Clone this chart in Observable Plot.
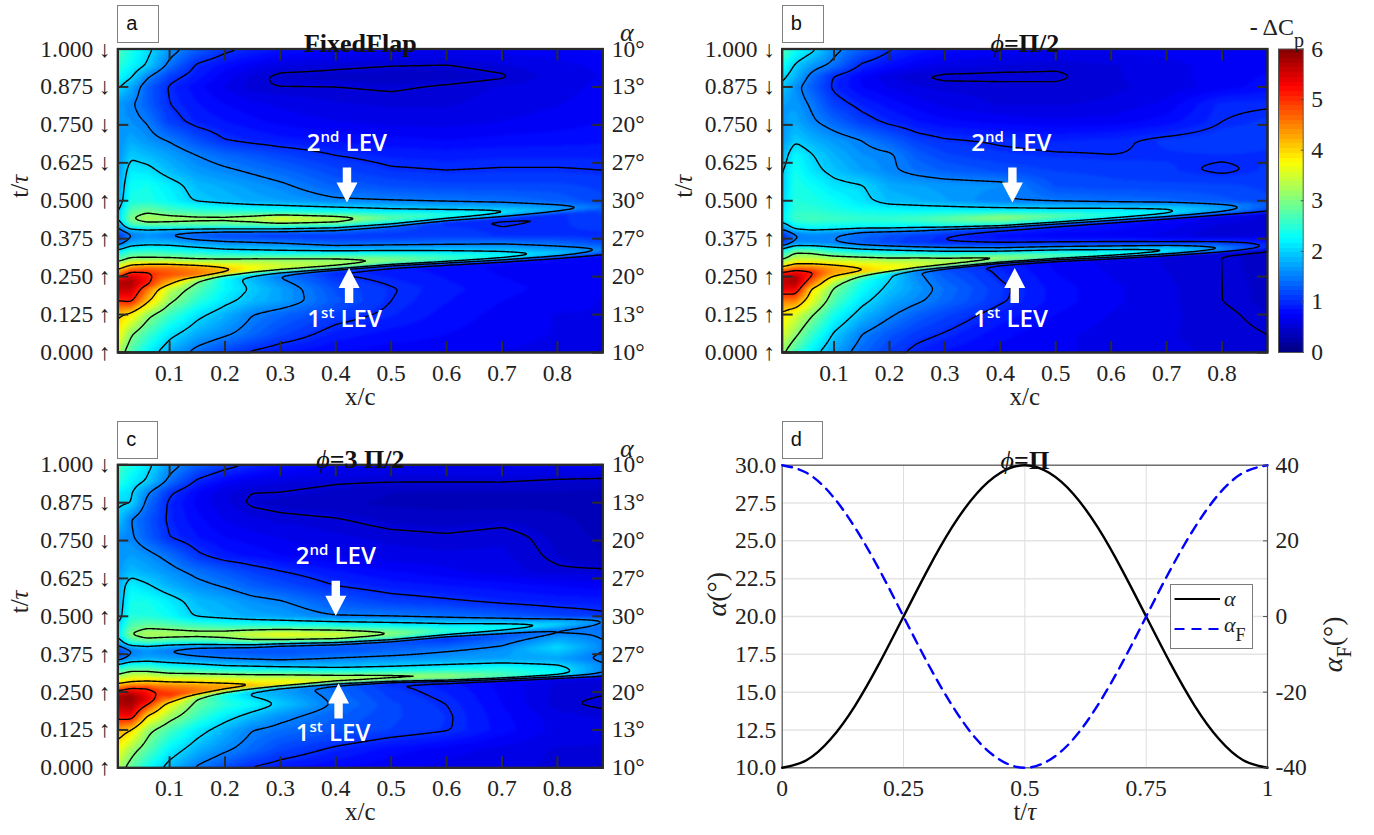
<!DOCTYPE html>
<html>
<head>
<meta charset="utf-8">
<script src="https://cdn.jsdelivr.net/npm/d3@7"></script>
<script src="https://cdn.jsdelivr.net/npm/@observablehq/plot@0.6"></script>
<style>
html,body{margin:0;padding:0;background:#fff}
#page{position:relative;width:1374px;height:835px;overflow:hidden;background:#fff}
#page svg{position:absolute;overflow:visible}
.tag{position:absolute;box-sizing:border-box;border:1.5px solid #808080;background:#fff;font:20px "Liberation Sans";color:#111;padding:6px 0 0 8px;height:38px}
</style>
</head>
<body>
<div id="page"></div>
<script>
// sampled columns (x/c)
const xCols = [.0065,.03,.06,.1,.15,.2,.25,.3,.4,.5,.6,.7,.8,.882];
// rows shared by all panels
const tLow = [0,.06,.125,.17,.21];
const tHigh = [.5,.55,.6,.65,.7,.76,.82,.875,.91,.945,1];

// Panel a: feature-following rows
const tMidA = [
[.235,.235,.225,.22,.235,.245,.25,.255,.262,.27,.28,.285,.295,.305],
[.25,.25,.25,.235,.245,.254,.26,.265,.274,.286,.294,.302,.312,.322],
[.265,.265,.265,.255,.255,.262,.268,.272,.28,.292,.299,.307,.317,.327],
[.28,.28,.28,.28,.28,.28,.282,.286,.292,.3,.306,.314,.323,.333],
[.305,.305,.305,.305,.303,.303,.305,.307,.31,.313,.317,.322,.329,.338],
[.335,.335,.335,.335,.335,.335,.335,.335,.335,.335,.335,.335,.338,.345],
[.36,.36,.36,.36,.36,.36,.36,.36,.36,.36,.36,.36,.36,.36],
[.385,.385,.385,.385,.385,.385,.385,.385,.385,.385,.385,.385,.385,.385],
[.4,.4,.4,.4,.4,.4,.4,.4,.405,.415,.43,.442,.455,.465],
[.42,.42,.42,.415,.415,.415,.415,.415,.418,.428,.441,.452,.465,.475],
[.44,.44,.44,.44,.44,.44,.44,.44,.44,.445,.453,.462,.472,.482],
[.47,.47,.47,.465,.465,.465,.465,.465,.465,.468,.47,.475,.483,.49]];
const cpA = [
[3.3,2.7,2.2,1.75,1.37,1.12,.95,.85,.75,.7,.7,.65,.62,.65],
[3.8,3.05,2.6,2.1,1.75,1.55,1.35,1.15,.9,.8,.75,.7,.65,.65],
[4.1,3.85,3.15,2.6,2.1,1.8,1.5,1.35,1.1,.95,.8,.72,.65,.65],
[5,5.1,4.1,3.1,2.5,2.1,1.85,1.7,1.25,1,.85,.75,.7,.65],
[5.6,5.6,4.6,3.4,2.75,2.25,1.95,1.7,1.2,1.02,.88,.78,.72,.66],
[5.7,5.8,5.1,3.9,3,2.25,1.8,1.45,.98,.88,.8,.72,.7,.68],
[4.9,5.5,5.2,4.3,3.6,2.9,2.4,1.9,1.2,1,.9,.85,.8,.8],
[4.4,5,5,4.8,4.6,4.2,3.6,3.3,3,2.6,2.3,1.9,1.6,1.4],
[3.7,4.4,4.6,4.6,4.4,4.05,3.75,3.5,3.25,3,2.6,2.3,1.9,1.35],
[2.8,3.2,3.2,3.2,3.15,3.15,3.15,3.1,3.05,2.85,2.55,2.25,1.9,1.5],
[2.1,2.45,2.5,2.4,2.25,2.1,2.05,2,1.95,2,2,1.95,1.7,1.45],
[1.3,1.75,1.85,1.85,1.7,1.6,1.55,1.5,1.3,1.35,1.4,1.45,1.35,1.2],
[1,1.45,1.6,1.45,1.25,1.15,1.1,1.05,1.05,1.05,1.1,1.02,1.03,1],
[1.3,1.7,1.8,1.65,1.55,1.5,1.5,1.5,1.5,1.3,1,.98,1,1.15],
[1.6,2.6,2.75,2.6,2.55,2.5,2.5,2.5,2.55,2.4,2.1,1.85,1.55,1.3],
[1.95,3,3.3,3.25,3.2,3.2,3.35,3.7,3.4,2.8,2.5,2.15,1.75,1.4],
[1.9,2.7,2.85,2.7,2.55,2.5,2.45,2.4,2.3,2.1,2,1.85,1.55,1.25],
[1.75,2.4,2.4,2.25,1.95,1.85,1.75,1.7,1.55,1.5,1.45,1.4,1.3,1.15],
[1.7,2.3,2.35,2.15,1.85,1.75,1.65,1.55,1.3,1.2,1.15,1.15,1.15,1.1],
[1.65,2.15,2.1,1.85,1.65,1.55,1.45,1.35,1.15,1.03,1,1.02,1.02,1],
[1.6,1.95,1.85,1.7,1.5,1.35,1.25,1.15,1,.92,.9,.92,.92,.92],
[1.6,1.75,1.62,1.47,1.2,1,.93,.88,.82,.78,.75,.78,.8,.82],
[1.6,1.6,1.48,1.1,.92,.85,.78,.72,.66,.62,.62,.66,.7,.75],
[1.65,1.55,1.3,1,.85,.75,.68,.63,.57,.55,.55,.6,.65,.7],
[2.05,1.75,1.3,.97,.78,.65,.52,.5,.5,.48,.52,.57,.62,.68],
[2.3,2.05,1.55,1.1,.88,.7,.55,.46,.45,.43,.43,.48,.6,.66],
[2.5,2.25,1.95,1.4,.95,.8,.68,.58,.53,.5,.49,.55,.62,.68],
[2.7,2.4,2.1,1.65,1.3,1.07,.95,.85,.75,.7,.68,.7,.72,.78]];

// Panel b
const tMidB = [
[.235,.235,.225,.22,.235,.25,.26,.265,.28,.295,.305,.315,.325,.333],
[.25,.25,.25,.24,.255,.263,.272,.279,.295,.304,.311,.32,.329,.337],
[.265,.265,.265,.26,.263,.27,.278,.285,.3,.31,.317,.326,.335,.343],
[.28,.28,.28,.28,.28,.285,.29,.295,.308,.316,.322,.331,.34,.348],
[.305,.305,.305,.305,.305,.305,.308,.31,.318,.325,.33,.337,.345,.353],
[.335,.335,.335,.335,.335,.335,.335,.335,.335,.34,.342,.347,.352,.358],
[.36,.36,.36,.36,.36,.36,.36,.36,.36,.36,.36,.36,.365,.37],
[.385,.385,.385,.385,.385,.385,.385,.385,.385,.385,.385,.385,.385,.385],
[.395,.395,.395,.395,.4,.4,.4,.405,.41,.42,.43,.44,.45,.455],
[.41,.41,.41,.41,.412,.412,.415,.415,.42,.43,.44,.45,.46,.465],
[.44,.44,.44,.44,.44,.44,.44,.44,.444,.45,.455,.46,.47,.475],
[.47,.47,.47,.47,.47,.47,.47,.47,.47,.47,.473,.478,.484,.49]];
const cpB = [
[3.1,2.6,2.15,1.7,1.35,1.1,.92,.82,.72,.68,.62,.58,.55,.5],
[3.55,3.1,2.55,1.95,1.5,1.25,1.08,.98,.78,.68,.62,.57,.53,.5],
[3.9,3.55,3.05,2.35,1.85,1.55,1.3,1.15,.9,.75,.65,.58,.52,.47],
[4.5,4.5,3.6,2.7,2.1,1.75,1.55,1.35,1.03,.8,.68,.58,.5,.45],
[5.4,5.4,3.95,2.95,2.3,1.9,1.65,1.4,1.05,.8,.68,.58,.5,.45],
[5.6,5.8,4.5,3.1,2.4,2.05,1.55,1.25,.93,.72,.62,.55,.5,.42],
[5.5,5.7,5,3.6,3,2.1,1.45,1.1,.8,.7,.62,.55,.5,.48],
[5,5.3,5.1,4.3,4.1,3.75,3.4,3.2,3,2.6,2.3,2.1,1.5,.9],
[4.1,4.5,4.5,4.3,4,3.75,3.55,3.35,3.1,2.75,2.4,2.1,1.6,1],
[3,3.5,3.5,3.4,3.35,3.25,3.2,3.1,3,2.6,2.3,2.05,1.55,.95],
[2.3,2.85,2.8,2.45,2.2,2.1,2,1.9,1.85,1.9,1.95,1.9,1.35,.9],
[1.1,1.6,1.6,1.5,1.3,1.15,1.05,1,.98,1.02,1.05,1.05,1,.8],
[.9,1.45,1.55,1.52,1.35,1.2,1.1,1,.8,.72,.7,.62,.47,.55],
[1.2,1.6,1.7,1.6,1.5,1.45,1.4,1.3,1.1,.95,.85,.75,.62,.55],
[1.6,2.1,2.25,2.2,2.2,2.2,2.2,2.3,2.4,2.3,2.05,1.8,1.45,1],
[2.2,2.6,2.65,2.6,2.55,2.55,2.65,2.8,3.15,2.8,2.45,2.15,1.7,1.25],
[2.1,2.5,2.5,2.4,2.3,2.25,2.2,2.2,2.15,2.1,2.05,1.95,1.6,1.3],
[2,2.45,2.4,2.3,2.1,1.85,1.8,1.7,1.5,1.45,1.4,1.35,1.25,1.15],
[1.95,2.4,2.3,2.1,2.02,1.75,1.7,1.65,1.6,1.2,1.15,1.15,1.15,1.1],
[1.95,2.35,2.1,1.9,1.7,1.55,1.4,1.3,1.2,1.12,1.1,1.05,.96,1.05],
[1.8,2.25,2.02,1.8,1.6,1.55,1.28,1.15,1.05,1.02,1,1.02,1.03,1.02],
[1.65,1.95,1.8,1.65,1.5,1.3,1.1,1.02,.97,.93,.96,1.05,1.1,1.05],
[1.65,1.75,1.55,1.35,1.1,.95,.85,.78,.72,.68,.7,.8,1,1.05],
[1.7,1.65,1.45,1.1,.92,.8,.7,.62,.55,.55,.58,.68,.97,.98],
[1.95,1.6,1.3,.95,.75,.65,.57,.54,.53,.52,.54,.6,.7,.8],
[2.1,1.8,1.4,.98,.75,.58,.5,.47,.47,.48,.55,.62,.7,.76],
[2.35,1.95,1.65,1.4,.95,.8,.68,.6,.55,.52,.55,.62,.7,.72],
[2.75,2.35,2.1,1.6,1.3,1.03,.9,.8,.72,.68,.68,.7,.72,.75]];

// Panel c
const tMidC = [
[.235,.235,.225,.22,.23,.24,.245,.25,.26,.265,.27,.275,.28,.285],
[.25,.25,.25,.23,.24,.25,.258,.266,.277,.283,.286,.291,.297,.3],
[.265,.265,.265,.24,.248,.258,.265,.272,.283,.289,.292,.297,.303,.306],
[.28,.28,.28,.27,.27,.27,.272,.28,.29,.295,.298,.303,.309,.313],
[.305,.305,.305,.3,.3,.3,.3,.3,.3,.303,.306,.311,.317,.322],
[.335,.335,.335,.33,.33,.33,.33,.33,.33,.33,.33,.33,.333,.34],
[.36,.36,.36,.36,.36,.36,.36,.36,.36,.36,.36,.36,.36,.36],
[.385,.385,.385,.385,.385,.385,.385,.385,.385,.385,.385,.39,.398,.4],
[.4,.4,.4,.4,.4,.4,.4,.405,.41,.418,.43,.44,.452,.462],
[.415,.415,.415,.415,.415,.415,.415,.417,.42,.428,.44,.45,.462,.472],
[.44,.44,.44,.44,.44,.44,.44,.44,.44,.445,.452,.46,.47,.48],
[.47,.47,.47,.47,.47,.47,.47,.47,.47,.47,.47,.473,.482,.492]];
const cpC = [
[3.25,2.8,2.3,1.85,1.45,1.2,.97,.88,.75,.68,.62,.58,.55,.55],
[3.75,3.2,2.75,2.2,1.8,1.55,1.35,1.15,.95,.8,.7,.62,.55,.55],
[4.3,4,3.15,2.65,2.15,1.8,1.5,1.4,1.25,1.12,1.02,.8,.62,.6],
[5.2,5.3,3.95,3.2,2.6,2.15,1.85,1.6,1.3,1.15,1.03,.78,.6,.55],
[5.7,5.8,5.05,3.7,2.85,2.5,2.25,1.95,1.45,1.15,1,.75,.52,.47],
[5.8,5.9,5.4,4.2,3,2.3,1.9,1.7,1.35,1.05,.9,.72,.55,.55],
[5.2,5.5,5.2,4.7,3.7,2.9,2.1,1.75,1.4,.95,.85,.75,.62,.6],
[4.5,4.9,4.95,5.05,4.6,4.25,4.1,3.9,3.3,3.1,3.05,2.7,2.2,1.4],
[3.9,4.1,4.2,4.5,4.4,4.3,4.15,3.85,3.4,3.2,3.05,2.7,2.2,1.5],
[3.1,3.4,3.4,3.4,3.4,3.35,3.3,3.3,3.25,3.15,3.05,2.65,2.2,1.55],
[2.2,2.5,2.5,2.4,2.3,2.15,2.1,2.05,1.95,2.05,2.2,2.35,2.1,1.55],
[1.3,1.65,1.75,1.7,1.6,1.5,1.45,1.4,1.52,1.6,1.65,1.7,1.7,1.4],
[1.05,1.45,1.6,1.45,1.3,1.25,1.2,1.2,1.25,1.35,1.5,1.6,2.05,1.55],
[1.4,1.8,1.9,1.7,1.55,1.5,1.45,1.4,1.35,1.2,.98,1.2,1.4,1.4],
[1.7,2.5,2.7,2.5,2.45,2.6,2.75,2.8,2.85,2.75,2.3,1.9,1.7,1.4],
[2.1,3.05,3.3,3.3,3.25,3.3,3.55,3.75,3.6,3.1,2.55,2.3,2,1.55],
[2,2.7,2.85,2.75,2.6,2.5,2.45,2.4,2.35,2.25,2.15,2.1,1.85,1.45],
[1.8,2.45,2.45,2.3,1.95,1.85,1.75,1.7,1.5,1.47,1.4,1.3,1.15,1.05],
[1.75,2.35,2.35,2.15,1.85,1.75,1.6,1.52,1.25,1.1,1.03,.95,.9,.9],
[1.75,2.2,2.05,1.8,1.6,1.47,1.3,1.2,1,.9,.85,.8,.75,.7],
[1.65,1.85,1.75,1.6,1.4,1.25,1.1,1,.85,.75,.68,.6,.52,.52],
[1.6,1.7,1.6,1.4,1.05,.88,.82,.75,.65,.6,.58,.58,.47,.38],
[1.6,1.55,1.3,1,.85,.75,.7,.65,.58,.54,.52,.55,.45,.35],
[1.95,1.5,1.25,.95,.78,.65,.58,.54,.51,.45,.43,.46,.42,.3],
[2.05,2.02,1.4,.95,.72,.58,.47,.44,.4,.35,.33,.33,.32,.3],
[2.2,2.05,1.55,1.05,.75,.58,.5,.5,.45,.38,.37,.37,.37,.36],
[2.5,2.2,1.95,1.4,.95,.75,.62,.57,.52,.51,.51,.51,.47,.45],
[2.65,2.4,2.1,1.65,1.3,1.1,.97,.85,.72,.65,.65,.68,.7,.72]];

// axis labels
const tickT = [0,.125,.25,.375,.5,.625,.75,.875,1];
const tickDir = ["↑","↑","↑","↑","↑","↓","↓","↓","↓"];
const alphaLabels = ["10°","13°","20°","27°","30°","27°","20°","13°","10°"];
const xTicks = [.1,.2,.3,.4,.5,.6,.7,.8];
const levels = [.5,1,1.5,2,3,4,5];
const jetStops = [[0,"#000080"],[.75,"#0000ff"],[2.25,"#00ffff"],[3.75,"#ffff00"],[5.25,"#ff0000"],[6,"#800000"]];

// panel d
const phaseT = [0,.05,.1,.15,.2,.25,.3,.35,.4,.45,.5,.55,.6,.65,.7,.75,.8,.85,.9,.95,1];
const alphaDeg = [10,10.5,11.9,14.1,16.9,20,23.1,25.9,28.1,29.5,30,29.5,28.1,25.9,23.1,20,16.9,14.1,11.9,10.5,10];
const flapDeg = [40,38,32.4,23.5,12.4,0,-12.4,-23.5,-32.4,-38,-40,-38,-32.4,-23.5,-12.4,0,12.4,23.5,32.4,38,40];
const yTicksD = [10,12.5,15,17.5,20,22.5,25,27.5,30];
const xTicksD = [0,.25,.5,.75,1];
const xTickNamesD = ["0","0.25","0.5","0.75","1"];
const flapTicks = [-40,-20,0,20,40];

// arrows and labels [xTip, tTip] / [x, t]
const notes = {
  a:{down:[.4202,.494],up:[.424,.2786],lev2:[.42,.69],lev1:[.416,.109]},
  b:{down:[.4218,.494],up:[.426,.2786],lev2:[.42,.69],lev1:[.4185,.109]},
  c:{down:[.4,.5016],up:[.405,.278],lev2:[.4,.697],lev1:[.395,.113]}
};

// jet colormap quantised in 64 steps, as MATLAB draws it
const jetI = d3.scaleLinear().domain(jetStops.map(d=>d[0])).range(jetStops.map(d=>d[1])).interpolate(d3.interpolateRgb);
const bandEdges = d3.range(1,64).map(i=>i*6/64);
const bandColors = d3.range(64).map(i=>jetI((i+.5)*6/64));
const colorOpts = {type:"threshold",domain:bandEdges,range:bandColors};

const SERIF = "Liberation Serif";
const FS = 23.5;
const INK = "#2b2b2b";

// Plot interpolate hook: blends along the rows and columns of the reading mesh
function meshInterpolate(index,w,h,X,Y,V){
  const nc = xCols.length, nr = index.length/nc;
  const W = new Float64Array(w*h);
  const ry = new Float64Array(nr), rv = new Float64Array(nr);
  for(let px=0;px<w;px++){
    const xp = px+.5;
    let c = 0;
    while(c<nc-2 && X[index[c+1]]<xp) c++;
    const x0 = X[index[c]], x1 = X[index[c+1]];
    const u = Math.max(0,Math.min(1,(xp-x0)/(x1-x0)));
    for(let r=0;r<nr;r++){
      const a = index[r*nc+c], b = index[r*nc+c+1];
      ry[r] = Y[a]*(1-u)+Y[b]*u;
      rv[r] = V[a]*(1-u)+V[b]*u;
    }
    let r = 0;
    for(let py=h-1;py>=0;py--){
      const yp = py+.5;
      while(r<nr-2 && ry[r+1]>yp) r++;
      const s = Math.max(0,Math.min(1,(ry[r]-yp)/(ry[r]-ry[r+1])));
      W[py*w+px] = rv[r]*(1-s)+rv[r+1]*s;
    }
  }
  return W;
}

function meshTable(tMid,cp){
  const rowsT = [...tLow.map(t=>xCols.map(()=>t)),...tMid,...tHigh.map(t=>xCols.map(()=>t))];
  const out = [];
  rowsT.forEach((row,r)=>row.forEach((t,c)=>out.push({x:xCols[c],t,v:cp[r][c]})));
  return out;
}

const arrowDown = {draw(ctx,l){ // tip at the anchored end, drawn pointing up then rotated
  const hw=10.5,sw=4.2,hh=20;
  ctx.moveTo(0,-l);ctx.lineTo(hw,-l+hh);ctx.lineTo(sw,-l+hh);ctx.lineTo(sw,0);ctx.lineTo(-sw,0);ctx.lineTo(-sw,-l+hh);ctx.lineTo(-hw,-l+hh);ctx.closePath();
}};

const richMap = {
  "2nd LEV":'2<tspan dy="-9" font-size="15">nd</tspan><tspan dy="9"> LEV</tspan>',
  "1st LEV":'1<tspan dy="-9" font-size="15">st</tspan><tspan dy="9"> LEV</tspan>',
  "ϕ=Π/2":'<tspan font-style="italic" font-weight="normal">ϕ</tspan>=Π/2',
  "ϕ=3 Π/2":'<tspan font-style="italic" font-weight="normal">ϕ</tspan>=3 Π/2',
  "ϕ=Π":'<tspan font-style="italic" font-weight="normal">ϕ</tspan>=Π',
  "t/τ":'t/<tspan font-style="italic">τ</tspan>',
  "α":'<tspan font-style="italic">α</tspan>',
  "α(°)":'<tspan font-style="italic">α</tspan>(°)',
  "αF(°)":'<tspan font-style="italic">α</tspan><tspan dy="9" font-size="20">F</tspan><tspan dy="-9">(°)</tspan>',
  "-ΔCp":'<tspan font-weight="bold">-</tspan> ΔC<tspan dy="12" font-size="20">p</tspan>'
};
function finish(svg,left,top){
  d3.select(svg).selectAll("text").each(function(){const h=richMap[this.textContent]; if(h) this.innerHTML=h;});
  svg.style.left=left+"px"; svg.style.top=top+"px";
  document.getElementById("page").appendChild(svg);
}
const T = {fontFamily:SERIF,fontSize:FS,fill:"#222"};

function heat(o){
  const data = meshTable(o.tMid,o.cp);
  const n = notes[o.key];
  const marks = [
    Plot.raster(data,{x:"x",y:"t",fill:"v",interpolate:meshInterpolate,pixelSize:1,blur:1}),
    Plot.contour(data,{x:"x",y:"t",value:"v",interpolate:meshInterpolate,pixelSize:1,blur:1.5,thresholds:levels,stroke:"#000",strokeWidth:1.4,fill:"none"}),
    Plot.frame({stroke:INK,strokeWidth:2.3}),
    Plot.axisX(xTicks,{anchor:"bottom",tickSize:-11,stroke:INK,strokeWidth:2,fill:"none",label:null}),
    Plot.axisX(xTicks,{anchor:"top",tickSize:-11,stroke:INK,strokeWidth:2,fill:"none",label:null}),
    Plot.axisY(tickT,{anchor:"left",tickSize:-11,stroke:INK,strokeWidth:2,fill:"none",label:null}),
    Plot.axisY(tickT,{anchor:"right",tickSize:-11,stroke:INK,strokeWidth:2,fill:"none",label:null}),
    Plot.axisX(xTicks,{anchor:"bottom",tickSize:0,tickPadding:12,tickFormat:d=>d.toFixed(1),label:null,...T}),
    Plot.axisY(tickT,{anchor:"left",tickSize:0,tickPadding:7,tickFormat:(d,i)=>d.toFixed(3)+" "+tickDir[tickT.indexOf(d)],label:null,...T}),
    Plot.vector([n.down],{x:d=>d[0],y:d=>d[1],rotate:180,length:35,anchor:"end",shape:arrowDown,fill:"#fff",stroke:"none"}),
    Plot.vector([n.up],{x:d=>d[0],y:d=>d[1],rotate:0,length:35,anchor:"end",shape:arrowDown,fill:"#fff",stroke:"none"}),
    Plot.text(["2nd LEV"],{x:()=>n.lev2[0],y:()=>n.lev2[1],text:d=>d,fontFamily:"Open Sans",fontWeight:600,fontSize:24,fill:"#fff"}),
    Plot.text(["1st LEV"],{x:()=>n.lev1[0],y:()=>n.lev1[1],text:d=>d,fontFamily:"Open Sans",fontWeight:600,fontSize:24,fill:"#fff"}),
    Plot.text([o.title],{frameAnchor:"top",dy:-15,fontFamily:SERIF,fontWeight:"bold",fontSize:26,fill:"#111"}),
    Plot.text(["x/c"],{frameAnchor:"bottom",dy:52,...T,fontSize:25}),
    Plot.text(["t/τ"],{frameAnchor:"left",dx:-98,dy:-3,rotate:-90,...T,fontSize:25})
  ];
  if(o.rightLabels){
    marks.push(
      Plot.axisY(tickT,{anchor:"right",tickSize:0,tickPadding:9,tickFormat:d=>alphaLabels[tickT.indexOf(d)],label:null,...T}),
      Plot.text(["α"],{frameAnchor:"top-right",dx:24,dy:-26,...T,fontSize:26,textAnchor:"middle"})
    );
  }
  return Plot.plot({
    width:o.w,height:o.h,marginLeft:o.ml,marginRight:o.mr,marginTop:o.mt,marginBottom:o.mb,
    style:{background:"transparent",fontFamily:SERIF},
    x:{domain:[.0065,.882]},
    y:{domain:[0,1]},
    color:colorOpts,
    marks
  });
}

finish(heat({key:"a",tMid:tMidA,cp:cpA,title:"FixedFlap",rightLabels:true,w:660,h:415,ml:117.3,mr:57.7,mt:48.5,mb:63}),0,0);
finish(heat({key:"b",tMid:tMidB,cp:cpB,title:"ϕ=Π/2",rightLabels:false,w:620,h:415,ml:121.7,mr:13,mt:48.5,mb:63}),660,0);
finish(heat({key:"c",tMid:tMidC,cp:cpC,title:"ϕ=3 Π/2",rightLabels:true,w:660,h:420,ml:117.3,mr:57.7,mt:49.3,mb:67.7}),0,415);

// colour bar
const bands = d3.range(64).map(i=>({y1:i*6/64,y2:(i+1)*6/64,v:(i+.5)*6/64}));
finish(Plot.plot({
  width:134,height:415,marginLeft:38,marginRight:71.3,marginTop:48.5,marginBottom:63,
  style:{background:"transparent",fontFamily:SERIF},
  x:{domain:[0,1],axis:null},y:{domain:[0,6]},color:colorOpts,
  marks:[
    Plot.rect(bands,{x1:()=>0,x2:()=>1,y1:"y1",y2:"y2",fill:"v",shapeRendering:"crispEdges"}),
    Plot.frame({stroke:"#555",strokeWidth:1}),
    Plot.axisY([0,1,2,3,4,5,6],{anchor:"right",tickSize:-3,stroke:"#555",fill:"none",label:null}),
    Plot.axisY([0,1,2,3,4,5,6],{anchor:"right",tickSize:0,tickPadding:8,label:null,tickFormat:d=>String(d),...T}),
    Plot.text(["-ΔCp"],{frameAnchor:"top",dx:-14,dy:-31,...T,fontSize:24})
  ]
}),1240,0);

// panel d
const toLeft = v=>20+v/4;
finish(Plot.plot({
  width:714,height:420,marginLeft:121.7,marginRight:107,marginTop:49.7,marginBottom:67.7,
  style:{background:"transparent",fontFamily:SERIF},
  x:{domain:[0,1]},y:{domain:[10,30]},
  marks:[
    Plot.ruleY(yTicksD,{stroke:"#e4e4e4",strokeWidth:1.5}),
    Plot.ruleX(xTicksD,{stroke:"#dedede",strokeWidth:1}),
    Plot.frame({stroke:"#555",strokeWidth:1.2}),
    Plot.line(phaseT.map((t,i)=>({t,v:alphaDeg[i]})),{x:"t",y:"v",stroke:"#000",strokeWidth:2.4,curve:"natural"}),
    Plot.line(phaseT.map((t,i)=>({t,v:toLeft(flapDeg[i])})),{x:"t",y:"v",stroke:"#0000ff",strokeWidth:2.4,strokeDasharray:"10 7",curve:"natural"}),
    Plot.axisX(xTicksD,{anchor:"bottom",tickSize:0,tickPadding:12,tickFormat:d=>xTickNamesD[xTicksD.indexOf(d)],label:null,...T}),
    Plot.axisY(yTicksD,{anchor:"left",tickSize:0,tickPadding:6,tickFormat:d=>d.toFixed(1),label:null,...T}),
    Plot.axisY(flapTicks.map(toLeft),{anchor:"right",tickSize:-5,stroke:"#555",fill:"none",label:null}),
    Plot.axisY(flapTicks.map(toLeft),{anchor:"right",tickSize:0,tickPadding:8,tickFormat:d=>String((d-20)*4),label:null,...T}),
    Plot.text(["ϕ=Π"],{frameAnchor:"top",dy:-15,fontFamily:SERIF,fontWeight:"bold",fontSize:26,fill:"#111"}),
    Plot.text(["t/τ"],{frameAnchor:"bottom",dy:52,...T,fontSize:25}),
    Plot.text(["α(°)"],{frameAnchor:"left",dx:-65,rotate:-90,...T,fontSize:28}),
    Plot.text(["αF(°)"],{frameAnchor:"right",dx:66,rotate:-90,...T,fontSize:28})
  ]
}),660,415);

// panel tags
[["a",117.3,5,42],["b",781.7,5,42],["c",117.3,421,40.5],["d",781.7,421,41.5]].forEach(([s,l,t,w])=>{
  const d=document.createElement("div");d.className="tag";d.textContent=s;
  d.style.left=l+"px";d.style.top=t+"px";d.style.width=w+"px";
  document.getElementById("page").appendChild(d);
});

// legend of panel d
const lg=document.createElement("div");
lg.style.cssText="position:absolute;left:1170px;top:583.5px;width:82.5px;height:65px;box-sizing:border-box;border:1.5px solid #7a7a7a;background:#fff";
lg.innerHTML=`<svg width="80" height="62" style="left:0;top:0;font-family:'Liberation Serif'">
<line x1="3.5" x2="49" y1="14" y2="14" stroke="#000" stroke-width="2.2"/>
<line x1="3.5" x2="49" y1="44" y2="44" stroke="#0000ff" stroke-width="2.2" stroke-dasharray="10 7"/>
<text x="53" y="21" font-size="22" font-style="italic" fill="#222">α</text>
<text x="53" y="47" font-size="22" font-style="italic" fill="#222">α<tspan dy="9" font-size="18" font-style="normal">F</tspan></text></svg>`;
document.getElementById("page").appendChild(lg);
</script>
</body>
</html>
